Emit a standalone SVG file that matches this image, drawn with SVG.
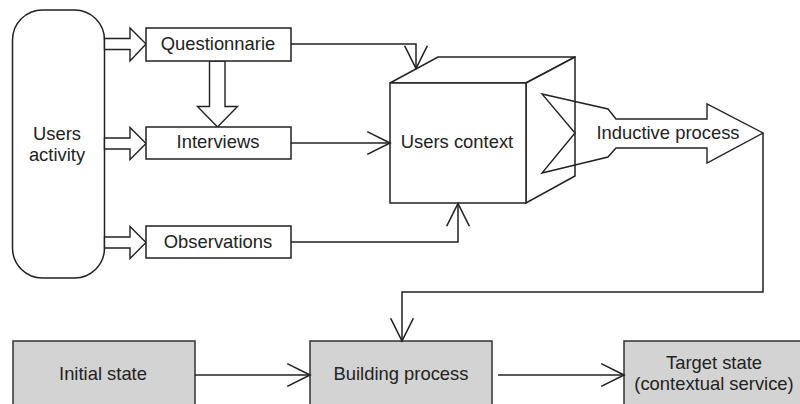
<svg xmlns="http://www.w3.org/2000/svg" width="800" height="404" viewBox="0 0 800 404">
<style>
.box{fill:#fff;stroke:#222;stroke-width:1.5}
.gbox{fill:#d3d3d3;stroke:#333;stroke-width:1.5}
.blk{fill:#fff;stroke:#222;stroke-width:1.4;stroke-linejoin:miter}
.ln{fill:none;stroke:#222;stroke-width:1.5}
text{font-family:"Liberation Sans",Arial,sans-serif;font-size:18.4px;fill:#222;text-anchor:middle}
</style>
<defs>
<marker id="open" markerUnits="userSpaceOnUse" markerWidth="26" markerHeight="26" viewBox="-22 -12 24 24" refX="0" refY="0" orient="auto" overflow="visible">
<path d="M-21,-10.5 L0,0 L-21,10.5" fill="none" stroke="#222" stroke-width="1.5"/>
</marker>
</defs>
<rect width="800" height="404" fill="#fff"/>
<g id="users-activity">
<rect class="box" x="12.5" y="10" width="92" height="268" rx="30" ry="30"/>
<text x="57" y="140">Users</text>
<text x="57" y="161">activity</text>
</g>
<g id="block-arrows">
<polygon class="blk" points="104.5,38.5 130,38.5 130,28 146,44 130,61 130,49.5 104.5,49.5"/>
<polygon class="blk" points="104.5,138 130,138 130,127.5 146,143.5 130,159.5 130,149 104.5,149"/>
<polygon class="blk" points="104.5,237 130,237 130,226.5 146,242.5 130,258.5 130,248 104.5,248"/>
<polygon class="blk" points="209.5,61 225,61 225,106.5 237.5,106.5 217.5,127 197.5,106.5 209.5,106.5"/>
</g>
<g id="questionnarie">
<rect class="box" x="146" y="28" width="145" height="33"/>
<text x="218" y="50">Questionnarie</text>
</g>
<g id="interviews">
<rect class="box" x="146" y="127" width="145" height="32"/>
<text x="218" y="148">Interviews</text>
</g>
<g id="observations">
<rect class="box" x="146" y="226" width="145" height="32"/>
<text x="218" y="248">Observations</text>
</g>
<g id="users-context">
<polygon class="box" points="390,83 438,57 575,57 526,83"/>
<polygon class="box" points="526,83 575,57 575,176 526,203"/>
<rect class="box" x="390" y="83" width="136" height="120"/>
<text x="457" y="148">Users context</text>
</g>
<g id="inductive-process">
<polygon points="542,94 608,109 616,119 707,119 707,104 763,133 707,163 707,148 616,148 608,157 542,173 575,133" fill="none" stroke="#222" stroke-width="1.4"/>
<text x="668" y="139">Inductive process</text>
</g>
<g id="initial-state">
<rect class="gbox" x="13" y="341" width="182" height="80"/>
<text x="103" y="380">Initial state</text>
</g>
<g id="building-process">
<rect class="gbox" x="310" y="341" width="182" height="80"/>
<text x="401" y="380">Building process</text>
</g>
<g id="target-state">
<rect class="gbox" x="624" y="341" width="190" height="80"/>
<text x="714" y="369">Target state</text>
<text x="714" y="390">(contextual service)</text>
</g>
<g id="connectors">
<polyline class="ln" points="291,44 416,44 416,68.5" marker-end="url(#open)"/>
<line class="ln" x1="291" y1="143" x2="390" y2="143" marker-end="url(#open)"/>
<polyline class="ln" points="291,242 458,242 458,203.5" marker-end="url(#open)"/>
<polyline class="ln" points="763,133 763,292 402,292 402,341" marker-end="url(#open)"/>
<line class="ln" x1="195" y1="375" x2="310" y2="375" marker-end="url(#open)"/>
<line class="ln" x1="498" y1="375" x2="624" y2="375" marker-end="url(#open)"/>
</g>
</svg>
